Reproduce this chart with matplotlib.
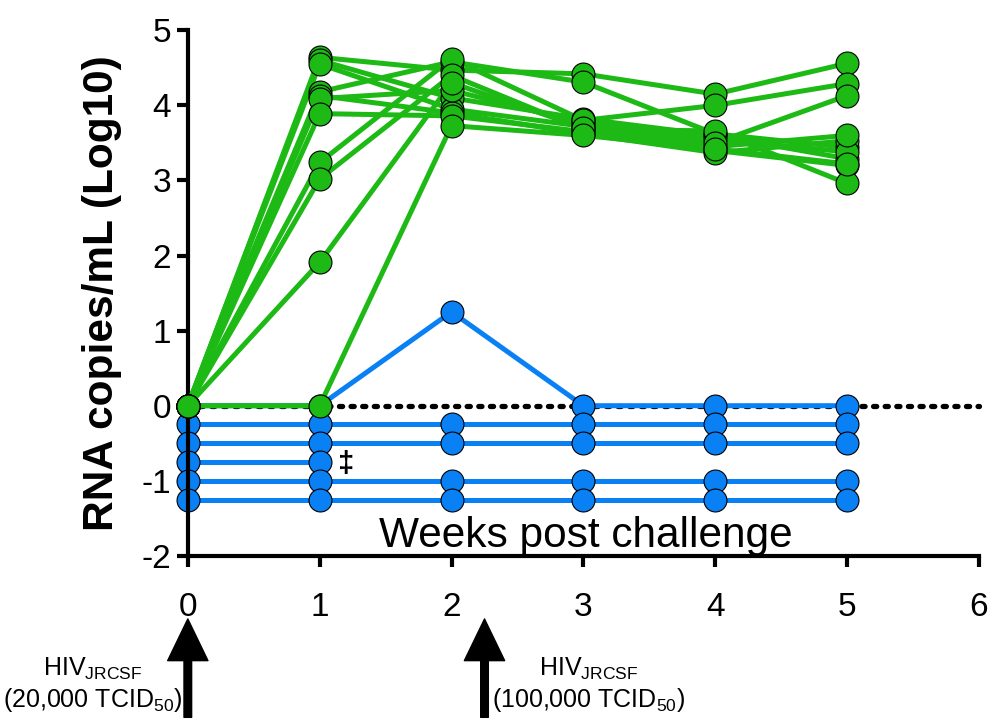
import numpy as np
import matplotlib
matplotlib.use('Agg')
from matplotlib import pyplot as plt

plt.rcParams['font.family'] = ['Liberation Sans', 'DejaVu Sans']
plt.rcParams['mathtext.fontset'] = 'custom'
plt.rcParams['mathtext.rm'] = 'Liberation Sans'
plt.rcParams['mathtext.it'] = 'Liberation Sans'
plt.rcParams['mathtext.bf'] = 'Liberation Sans:bold'
plt.rcParams['axes.unicode_minus'] = False

weeks = [0, 1, 2, 3, 4, 5]

# infected animals (log10 copies/mL)
green_series = [
    [0, 4.64, 4.47, 4.42, 4.15, 4.56],
    [0, 4.60, 4.10, 3.82, 3.60, 3.29],
    [0, 4.55, 3.95, 3.72, 3.40, 3.20],
    [0, 4.18, 4.58, 4.31, 3.62, 3.44],
    [0, 4.13, 3.90, 3.62, 3.37, 3.53],
    [0, 4.09, 4.20, 3.76, 3.55, 3.38],
    [0, 3.89, 3.86, 3.65, 3.45, 3.60],
    [0, 3.24, 4.62, 3.80, 4.00, 4.29],
    [0, 3.02, 4.40, 3.68, 3.66, 2.96],
    [0, 1.91, 4.30, 3.70, 3.50, 4.13],
    [0, 0.00, 3.73, 3.60, 3.42, 3.22],
]

# protected animals (offset below 0 for display)
nan = np.nan
blue_series = [
    [0, 0, 1.25, 0, 0, 0],
    [-0.25] * 6,
    [-0.5] * 6,
    [-0.75, -0.75, nan, nan, nan, nan],
    [-1.0] * 6,
    [-1.25] * 6,
]

green = '#1DB915'
blue = '#0A80F5'

fig = plt.figure(figsize=(9.99, 7.21), dpi=100)
ax = fig.add_axes([0.188, 0.229, 0.792, 0.729])

ax.plot([0, 6], [0, 0], ls=(0, (0.6, 1.6)), color='black', lw=3.8, zorder=1,
        clip_on=False, dash_capstyle='round')

for s in blue_series:
    ax.plot(weeks, s, color=blue, lw=3.6, marker='o', ms=16.5, mfc=blue, mec='black',
            mew=0.8, zorder=2, clip_on=False)
for s in green_series:
    ax.plot(weeks, s, color=green, lw=3.6, zorder=3, clip_on=False)
for s in green_series:
    ax.plot(weeks, s, ls='none', marker='o', ms=16.5, mfc=green, mec='black',
            mew=0.8, zorder=4, clip_on=False)

ax.text(1.2, -0.77, '\u2021', fontsize=21, fontweight='bold', ha='center', va='center')
ax.text(3.02, -1.73, 'Weeks post challenge', fontsize=30.5, ha='center', va='center')

ax.set_xlim(0, 6)
ax.set_ylim(-2, 5)
ax.set_xticks(range(0, 7))
ax.set_yticks(range(-2, 6))
for side in ['top', 'right']:
    ax.spines[side].set_visible(False)
for side in ['left', 'bottom']:
    ax.spines[side].set_linewidth(3)
ax.tick_params(axis='y', direction='out', length=8, width=3, labelsize=24, pad=4)
ax.tick_params(axis='x', direction='out', length=8, width=3, labelsize=24, pad=18)
ax.set_ylabel('RNA copies/mL (Log10)', fontsize=30.5, fontweight='bold', labelpad=14)

# challenge arrows
for xa in [0, 2.25]:
    ax.annotate('', xy=(xa, -2.84), xytext=(xa, -4.15), annotation_clip=False,
                arrowprops=dict(facecolor='black', edgecolor='black', width=5.5,
                                headwidth=29, headlength=30, shrink=0))

ax.text(-0.04, -3.72, 'HIV$_{\\mathrm{JRCSF}}$\n(20,000 TCID$_{\\mathrm{50}}$)',
        fontsize=18, ha='right', va='center', multialignment='center', clip_on=False)
ax.text(2.31, -3.72, 'HIV$_{\\mathrm{JRCSF}}$\n(100,000 TCID$_{\\mathrm{50}}$)',
        fontsize=18, ha='left', va='center', multialignment='center', clip_on=False)

fig.savefig('out.png', dpi=100)
